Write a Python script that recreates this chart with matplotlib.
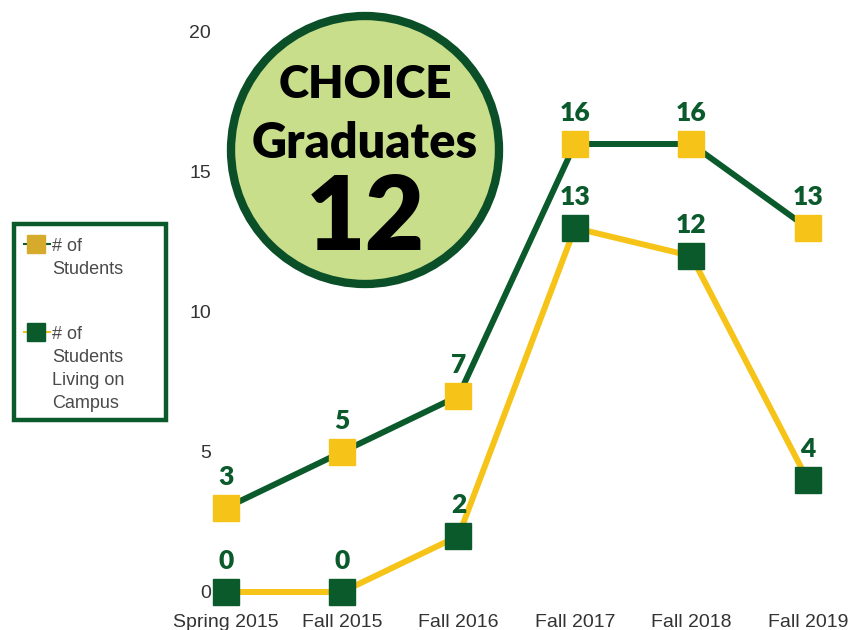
import matplotlib
matplotlib.use("Agg")
import matplotlib.pyplot as plt
from matplotlib.patches import Circle, Rectangle
from matplotlib.lines import Line2D

# data
terms = ["Spring 2015", "Fall 2015", "Fall 2016", "Fall 2017", "Fall 2018", "Fall 2019"]
students = [3, 5, 7, 16, 16, 13]
on_campus = [0, 0, 2, 13, 12, 4]
yticks = [0, 5, 10, 15, 20]
graduates = 12
legend_labels = ["# of\nStudents", "# of\nStudents\nLiving on\nCampus"]

yellow = "#f6c419"
green = "#0b5a2c"
label_font = "Lato"

W, H = 856, 630
fig = plt.figure(figsize=(W / 100, H / 100), dpi=100)


def px(x, y):
    # pixel (from top-left) -> figure fraction
    return x / W, 1 - y / H


ax = fig.add_axes([214 / W, 38 / H, 617 / W, 560 / H])

x = list(range(len(terms)))

# dark green line through yellow squares
ax.plot(x, students, color=green, lw=4.3, marker="s", ms=19,
        mfc=yellow, mec=yellow, zorder=3, clip_on=False)
# yellow line through dark green squares
ax.plot(x, on_campus, color=yellow, lw=4.3, marker="s", ms=19,
        mfc=green, mec=green, zorder=4, clip_on=False)

for series in (students, on_campus):
    for xi, v in zip(x, series):
        ax.annotate(str(v), (xi, v), xytext=(0, 14), textcoords="offset points",
                    ha="center", va="bottom", color=green, fontsize=19,
                    fontweight="heavy", family=label_font, zorder=6)

ax.set_xlim(-0.1, 5.2)
ax.set_ylim(0, 20)
ax.set_xticks(x)
ax.set_xticklabels(terms)
ax.set_yticks(yticks)
ax.tick_params(axis="x", length=0, labelsize=14, labelcolor="#333333", pad=16)
ax.tick_params(axis="y", length=0, labelsize=14, labelcolor="#333333", pad=2)
for lab in ax.get_xticklabels() + ax.get_yticklabels():
    lab.set_family("Liberation Sans")
for s in ax.spines.values():
    s.set_visible(False)

# legend box, drawn by hand
x0, y0 = px(14, 420)
x1, y1 = px(166, 224)
fig.add_artist(Rectangle((x0, y0), x1 - x0, y1 - y0, transform=fig.transFigure,
                         facecolor="white", edgecolor=green, lw=3.2, zorder=5))
legend_marks = [(green, "#d6aa2a", 244), (yellow, green, 332)]
for (lc, mc, ypix), txt in zip(legend_marks, legend_labels):
    lx = [px(24, 0)[0], px(50, 0)[0]]
    ly = [px(0, ypix)[1]] * 2
    fig.add_artist(Line2D(lx, ly, transform=fig.transFigure, color=lc, lw=1.5, zorder=6))
    fig.add_artist(Line2D([px(36, 0)[0]], [px(0, ypix)[1]], transform=fig.transFigure,
                          marker="s", ms=13, mfc=mc, mec=mc, lw=0, zorder=7))
    tx, ty = px(52, ypix - 6)
    fig.text(tx, ty, txt, ha="left", va="top", fontsize=13, color="#4a4a4a",
             family="Liberation Sans", linespacing=1.45, zorder=7)

# badge circle
tr = fig.dpi_scale_trans
cx, cy, r = 3.65, 4.80, 1.34
fig.add_artist(Circle((cx, cy), r, transform=tr, facecolor="#c8de8a",
                      edgecolor="#0a4f28", lw=6, zorder=10))
fig.text(cx, cy + 0.65, "CHOICE", transform=tr, ha="center", va="center",
         fontsize=33, fontweight="heavy", family=label_font, color="black", zorder=11)
fig.text(cx, cy + 0.07, "Graduates", transform=tr, ha="center", va="center",
         fontsize=35, fontweight="heavy", family=label_font, color="black", zorder=11)
fig.text(cx, cy - 0.70, str(graduates), transform=tr, ha="center", va="center",
         fontsize=74, fontweight="heavy", family=label_font, color="black", zorder=11)

fig.savefig("out.png", dpi=100)
